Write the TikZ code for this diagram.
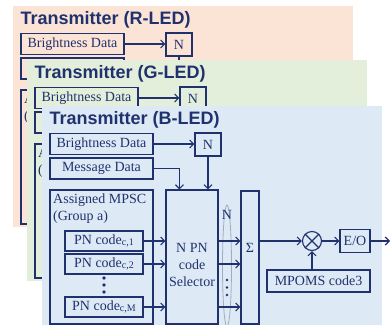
\documentclass[tikz,border=0pt]{standalone}
\usepackage{fontspec}
\setmainfont{Liberation Serif}
\newfontfamily\ttlfont{Liberation Sans}
\usetikzlibrary{arrows.meta,shapes.geometric}
\definecolor{navy}{RGB}{32,50,110}
\definecolor{pR}{RGB}{251,228,214}
\definecolor{pG}{RGB}{227,239,218}
\definecolor{pB}{RGB}{221,233,245}
\definecolor{ellc}{RGB}{160,172,195}
\tikzset{
 bx/.style={draw=navy,line width=1.1pt,text=navy,inner sep=0pt,font=\fontsize{14}{16}\selectfont},
 arr/.style={draw=navy,line width=1.1pt,-{Straight Barb[length=4pt,width=8pt]}},
 ln/.style={draw=navy,line width=1.1pt},
 ttl/.style={text=navy,font=\ttlfont\bfseries\fontsize{18}{20}\selectfont,inner sep=0pt,anchor=base west},
 txt/.style={text=navy,font=\fontsize{14}{17}\selectfont,inner sep=0pt},
 bigdot/.style={circle,fill=navy,inner sep=0pt,minimum size=3.6pt},
 smalldot/.style={circle,fill=navy,inner sep=0pt,minimum size=2.8pt},
}
\newcommand\sub[1]{\raisebox{-1.5pt}{\fontsize{10}{10}\selectfont #1}}
% common (top) part of a transmitter panel; #6 = message text, #7 = MPSC text (only visible parts on back panels)
\newcommand\txcommon[7]{%
\begin{scope}[shift={(#2,#3)}]
\fill[#4] (0,0) rectangle (340,221);
\node[ttl] (#1ttl) at (7.5,18) {Transmitter (#5)};
\node[bx,minimum width=103pt,minimum height=21pt] (#1bd) at (59.5,38) {Brightness Data};
\node[bx,minimum width=103pt,minimum height=21pt] (#1md) at (59.5,62.5) {#6};
\node[bx,minimum width=26pt,minimum height=23pt] (#1n) at (166,38.5) {N};
\draw[arr] (#1bd.east) -- (#1bd.east -| #1n.west);
\node[bx,minimum width=103pt,minimum height=134pt] (#1ms) at (59.5,151) {};
\node[txt,anchor=north west,align=left] (#1mst) at (11,88) {#7};
\node[bx,minimum width=52pt,minimum height=134pt] (#1sel) at (150,151) {};
\draw[arr] (#1md.east) -| ([xshift=14pt]#1sel.north west);
\draw[arr] (#1n.south) -- (#1n.south |- #1sel.north);
\end{scope}}
% the rest, only for the front panel
\newcommand\txfull[3]{%
\begin{scope}[shift={(#2,#3)}]
\node[bx,minimum width=78pt,minimum height=20pt] (#1pa) at (62,135) {PN code\sub{c,1}};
\node[bx,minimum width=78pt,minimum height=20pt] (#1pb) at (62,158) {PN code\sub{c,2}};
\node[bx,minimum width=78pt,minimum height=20pt] (#1pm) at (62,201) {PN code\sub{c,M}};
\node[bigdot] (#1da) at (62,172) {};
\node[bigdot] (#1db) at (62,179) {};
\node[bigdot] (#1dc) at (62,186) {};
\node[txt,align=center] (#1selt) at (150,159) {N PN\\code\\Selector};
\node[bx,minimum width=18pt,minimum height=133pt] (#1sig) at (208,151.5) {};
\node[txt] (#1sigt) at (208,142) {Σ};
\node[draw=ellc,line width=0.8pt,ellipse,minimum width=9pt,minimum height=122pt,inner sep=0pt] (#1ell) at (185,160) {};
\node[txt] (#1nl) at (185,109) {N};
\node[smalldot] (#1ea) at (185,174) {};
\node[smalldot] (#1eb) at (185,181.5) {};
\node[smalldot] (#1ec) at (185,189) {};
\draw[arr] (#1pa.east) -- (#1pa.east -| #1sel.west);
\draw[arr] (#1pb.east) -- (#1pb.east -| #1sel.west);
\draw[arr] (#1pm.east) -- (#1pm.east -| #1sel.west);
\draw[arr] (#1pa.east -| #1sel.east) -- (#1pa.east -| #1sig.west);
\draw[arr] (#1pb.east -| #1sel.east) -- (#1pb.east -| #1sig.west);
\draw[arr] (#1pm.east -| #1sel.east) -- (#1pm.east -| #1sig.west);
\node[circle,draw=navy,line width=1.1pt,minimum size=19pt,inner sep=0pt] (#1ox) at (270,135) {};
\draw[ln] (#1ox.north west) -- (#1ox.south east) (#1ox.north east) -- (#1ox.south west);
\node[bx,minimum width=30pt,minimum height=23pt] (#1eo) at (313,135) {E/O};
\node[bx,minimum width=103pt,minimum height=22pt] (#1mp) at (276.5,175) {MPOMS code3};
\coordinate (#1out) at (348,135);
\draw[arr] (#1sig.east |- #1ox) -- (#1ox.west);
\draw[arr] (#1ox.east) -- (#1eo.west);
\draw[arr] (#1eo.east) -- (#1out);
\draw[arr] (#1mp.north -| #1ox) -- (#1ox.south);
\end{scope}}
\begin{document}
\begin{tikzpicture}[x=1pt,y=-1pt]
\clip (0,0) rectangle (390,324);
\fill[white] (0,0) rectangle (390,324);
\txcommon{R}{13}{6}{pR}{R-LED}{}{A\\(}
\txcommon{G}{27}{60}{pG}{G-LED}{}{A\\(}
\txcommon{B}{42}{106}{pB}{B-LED}{Message Data}{Assigned MPSC\\(Group a)}
\txfull{B}{42}{106}
\end{tikzpicture}
\end{document}
